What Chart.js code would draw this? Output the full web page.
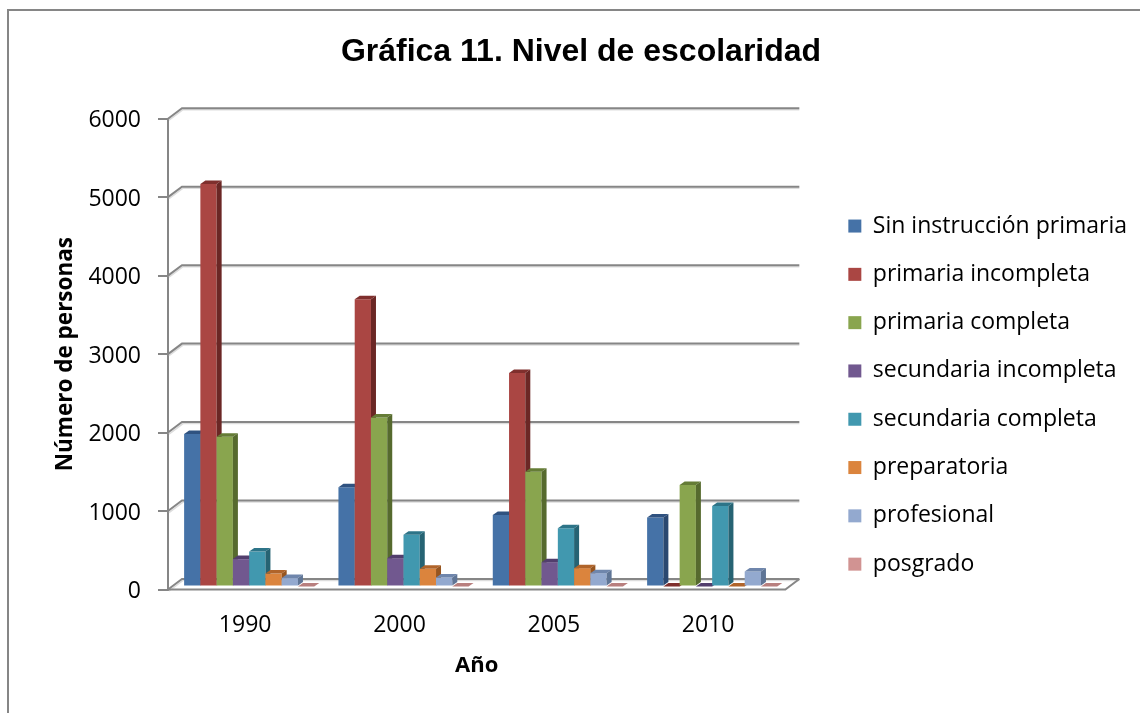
<!DOCTYPE html>
<html><head><meta charset="utf-8">
<style>html,body{margin:0;padding:0;background:#fff}canvas{display:block}</style>
<script src="https://cdn.jsdelivr.net/npm/chart.js@4"></script></head>
<body><canvas id="c" width="1140" height="713" style="width:1140px;height:713px"></canvas>
<script>
const categories = ['1990','2000','2005','2010'];
const sinInstruccion = [1943,1265,912,878];
const primariaIncompleta = [5130,3660,2720,0];
const primariaCompleta = [1908,2155,1463,1294];
const secundariaIncompleta = [349,361,310,0];
const secundariaCompleta = [445,658,743,1027];
const preparatoria = [165,225,234,0];
const profesional = [107,115,170,191];
const posgrado = [0,0,0,0];
const seriesNames = ['Sin instrucción primaria','primaria incompleta','primaria completa','secundaria incompleta','secundaria completa','preparatoria','profesional','posgrado'];
const seriesValues = [sinInstruccion,primariaIncompleta,primariaCompleta,secundariaIncompleta,secundariaCompleta,preparatoria,profesional,posgrado];
const frontColors = ['#4572A7','#AA4643','#89A54E','#71588F','#4198AF','#DB843D','#93A9CF','#D19392'];
const topColors = ['#2F5280','#7F2F2D','#657C36','#523E6D','#2D7488','#B0642A','#6F86AC','#B87F7E'];
const sideColors = ['#2A4870','#6B2725','#566A2E','#463460','#266373','#97551F','#5F7596','#96605F'];
const BODY_FONT = '"Open Sans"';
const DX=14, DY=10.5, BX=5, BY=3.5, SHIFT_X=4, SHIFT_Y=-3;

const threeD = {
  id:'threeD',
  beforeDraw(chart){
    const c=chart.ctx;
    c.save();c.strokeStyle='#868686';c.lineWidth=2;
    c.beginPath();c.moveTo(8,713);c.lineTo(8,10);c.lineTo(1140,10);c.stroke();c.restore();
  },
  beforeDatasetsDraw(chart){
    const c=chart.ctx,a=chart.chartArea,y=chart.scales.y;
    c.save();
    const ticks=y.ticks.map(t=>y.getPixelForValue(t.value));
    c.lineWidth=1.5;c.strokeStyle='#DDDDDD';
    ticks.forEach(p=>{c.beginPath();c.moveTo(a.left+1,p+1.5);c.lineTo(a.left+DX+1,p-DY+1.5);c.lineTo(a.right+DX,p-DY+1.5);c.stroke();});
    c.lineWidth=2;c.strokeStyle='#868686';
    ticks.forEach(p=>{c.beginPath();c.moveTo(a.left,p);c.lineTo(a.left+DX,p-DY);c.lineTo(a.right+DX,p-DY);c.stroke();});
    const b=y.getPixelForValue(0);
    c.beginPath();c.moveTo(a.left,b);c.lineTo(a.right,b);c.lineTo(a.right+DX,b-DY);c.stroke();
    c.restore();
    // paint left to right, so each bar covers its left neighbour's side face
    seriesNames.forEach((_,i)=>{
      const meta=chart.getDatasetMeta(i);
      c.save();c.translate(SHIFT_X,SHIFT_Y);
      meta.controller.draw();
      meta.data.forEach(el=>{
        const p=el.getProps(['x','y','base','width'],true);
        const l=p.x-p.width/2,r=p.x+p.width/2,t=p.y,bb=p.base;
        c.fillStyle=topColors[i];
        c.beginPath();c.moveTo(l,t);c.lineTo(r,t);c.lineTo(r+BX,t-BY);c.lineTo(l+BX,t-BY);c.closePath();c.fill();
        if(bb-t>0.5){
          c.fillStyle=sideColors[i];
          c.beginPath();c.moveTo(r,t);c.lineTo(r+BX,t-BY);c.lineTo(r+BX,bb-BY);c.lineTo(r,bb);c.closePath();c.fill();
        }
      });
      c.restore();
    });
    return false;
  }
};

new Chart(document.getElementById('c'),{
  type:'bar',
  data:{labels:categories,datasets:seriesNames.map((n,i)=>({
    label:n,data:seriesValues[i],backgroundColor:frontColors[i],borderWidth:0
  }))},
  plugins:[threeD],
  options:{
    responsive:false,animation:false,
    categoryPercentage:0.843,barPercentage:1,
    layout:{padding:{left:25,right:3,top:0,bottom:0}},
    plugins:{
      title:{display:true,text:'Gráfica 11. Nivel de escolaridad',color:'#000',
        font:{family:'"Liberation Sans"',size:32,weight:'bold'},padding:{top:33,bottom:47.3}},
      legend:{position:'right',maxWidth:340,
        title:{display:true,text:' ',font:{size:1},padding:{top:0,bottom:76}},
        labels:{boxWidth:13,boxHeight:13,padding:25.3,color:'#000',font:{family:BODY_FONT,size:23}}},
      tooltip:{enabled:false}
    },
    scales:{
      x:{grid:{display:false},border:{display:false},
        ticks:{color:'#000',font:{family:BODY_FONT,size:23},padding:14},
        title:{display:true,text:'Año',color:'#000',font:{family:BODY_FONT,size:22,weight:'bold'},padding:{top:0,bottom:34}},
        afterFit(s){s.height=713-589.5;}},
      y:{min:0,max:6000,ticks:{stepSize:1000,color:'#000',font:{family:BODY_FONT,size:23},padding:17,labelOffset:2,callback:v=>String(v)},
        grid:{display:true,drawOnChartArea:false,drawTicks:true,tickLength:10,color:'#868686',lineWidth:2},
        border:{display:true,color:'#868686',width:2},
        title:{display:true,text:'Número de personas',color:'#000',font:{family:BODY_FONT,size:22.5,weight:'bold'},padding:{top:27,bottom:0}},
        afterFit(s){s.width=143;}},
      spacer:{position:'right',display:true,grid:{display:false},border:{display:false},ticks:{display:false},
        afterFit(s){s.width=37.7;}}
    }
  }
});
</script></body></html>
